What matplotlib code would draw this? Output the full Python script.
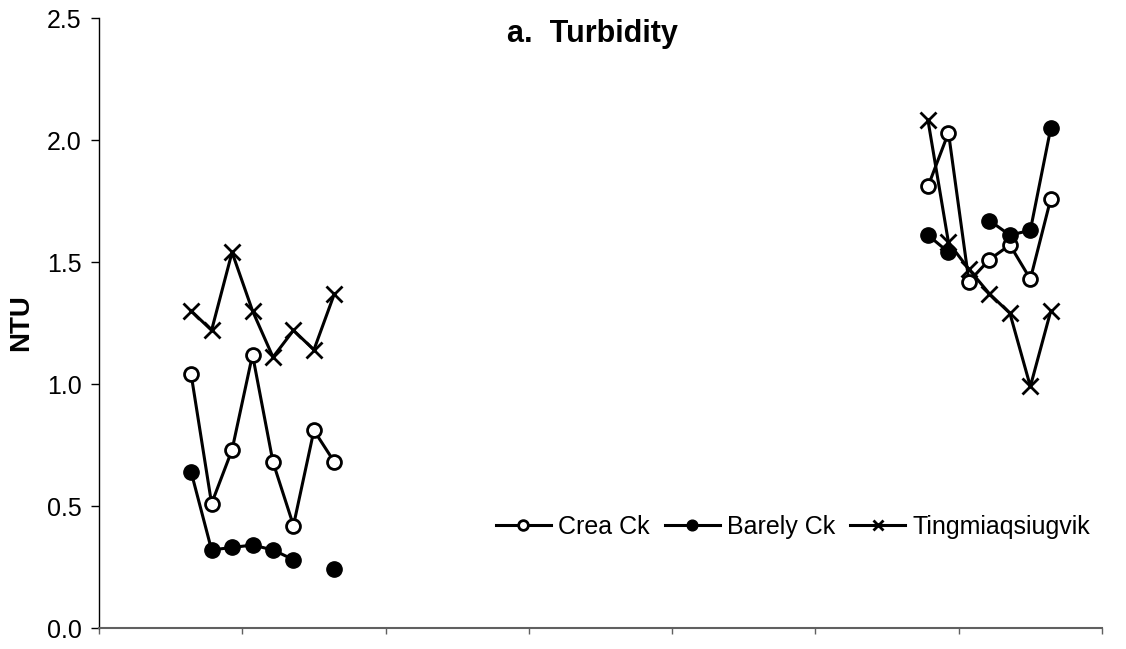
import numpy as np
import matplotlib.pyplot as plt

plt.rcParams['font.family'] = ['Liberation Sans', 'DejaVu Sans']

# sampling days (ticks every 7 days), two field campaigns
days_early = [4.5, 5.5, 6.5, 7.5, 8.5, 9.5, 10.5, 11.5]
days_late = [40.5, 41.5, 42.5, 43.5, 44.5, 45.5, 46.5]

crea_early = [1.04, 0.51, 0.73, 1.12, 0.68, 0.42, 0.81, 0.68]
crea_late = [1.81, 2.03, 1.42, 1.51, 1.57, 1.43, 1.76]

barely_early = [0.64, 0.32, 0.33, 0.34, 0.32, 0.28, np.nan, 0.24]
barely_late = [1.61, 1.54, np.nan, 1.67, 1.61, 1.63, 2.05]

ting_early = [1.30, 1.22, 1.54, 1.30, 1.11, 1.22, 1.14, 1.37]
ting_late = [2.08, 1.58, 1.47, 1.37, 1.29, 0.99, 1.30]

fig = plt.figure(figsize=(11.26, 6.49), dpi=100)
ax = fig.add_axes([99/1126, 1 - 628/649, (1102 - 99)/1126, (628 - 18)/649])

styles = [
    ("Crea Ck", crea_early, crea_late, dict(marker='o', ms=10, mfc='white', mec='black', mew=2)),
    ("Barely Ck", barely_early, barely_late, dict(marker='o', ms=11, mfc='black', mec='black', mew=1)),
    ("Tingmiaqsiugvik", ting_early, ting_late, dict(marker='x', ms=11, mec='black', mew=2)),
]

for name, early, late, st in styles:
    ax.plot(days_early, early, color='black', lw=2.2, label=name, **st)
    ax.plot(days_late, late, color='black', lw=2.2, **st)

ax.set_xlim(0, 49)
ax.set_ylim(0, 2.5)
ax.set_xticks(np.arange(0, 50, 7))
ax.set_xticklabels([])
ax.set_yticks(np.arange(0, 2.51, 0.5))
ax.set_yticklabels([f"{v:.1f}" for v in np.arange(0, 2.51, 0.5)], fontsize=18)

for s in ['top', 'right']:
    ax.spines[s].set_visible(False)
ax.spines['left'].set_linewidth(1.0)
ax.spines['bottom'].set_linewidth(1.5)
ax.spines['bottom'].set_color('#606060')
ax.tick_params(axis='y', direction='out', length=5.5, width=1, pad=7)
ax.tick_params(axis='x', direction='out', length=4.3, width=1, color='#606060')

ax.set_ylabel("NTU", fontsize=20, fontweight='bold', va='center')
ax.yaxis.set_label_coords(-(99 - 21)/1003, 0.5)

fig.text(507/1126, 1 - 42/649, "a.  Turbidity", fontsize=22, fontweight='bold',
         ha='left', va='baseline')

handles, labels = ax.get_legend_handles_labels()
fig.legend(handles, labels, loc='center left', bbox_to_anchor=(483/1126, 1 - 527/649),
           ncol=3, frameon=False, fontsize=18, handlelength=2.2, handletextpad=0.3,
           columnspacing=0.6, borderpad=0, markerscale=0.7)

fig.savefig("out.png", dpi=100)
